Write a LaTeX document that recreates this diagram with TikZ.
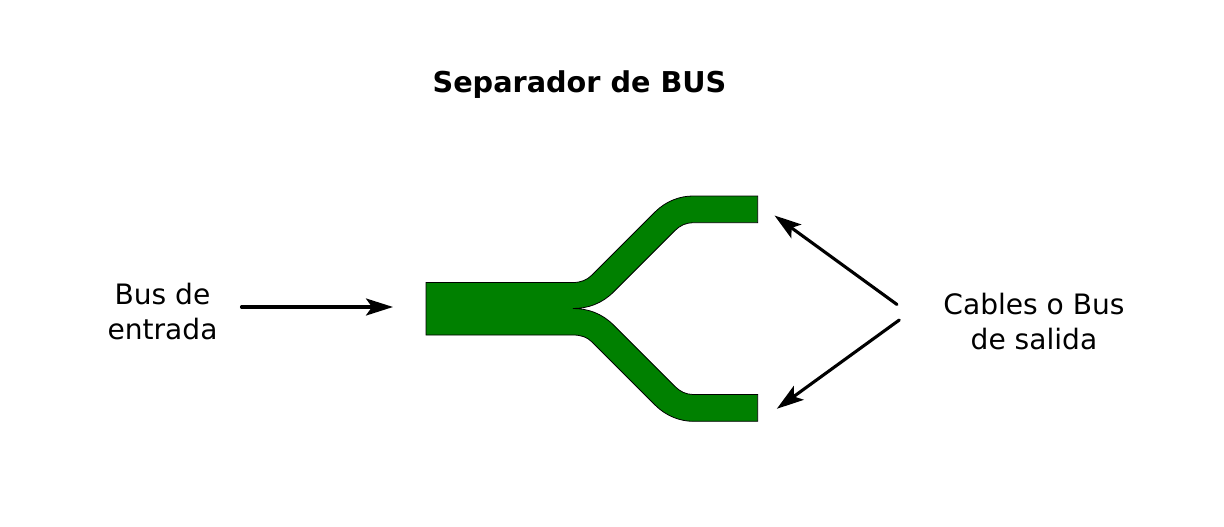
\documentclass[tikz,border=0pt]{standalone}
\usepackage{fontspec}
\setmainfont{DejaVu Sans}
\usetikzlibrary{arrows.meta}
\definecolor{busgreen}{RGB}{0,128,0}
\tikzset{
  busshape/.style={fill=busgreen,draw=black,line width=0.8pt,line join=miter,miter limit=2},
  pointer/.style={draw=black,line width=3.1pt,line cap=round,-{Stealth[length=27pt,width=17pt,inset=6pt]}},
  lbl/.style={align=center,inner sep=0pt,font=\fontsize{28.1}{34.5}\selectfont},
  ttl/.style={inner sep=0pt,font=\fontsize{28.7}{34}\selectfont\bfseries}
}
\begin{document}
\begin{tikzpicture}[x=1pt,y=-1pt]
\useasboundingbox (0,0) rectangle (1224,527);
\path[busshape]
  (426,282.5) -- (573,282.5)
  .. controls (581,282.5) and (587,280) .. (592,275)
  -- (655,212)
  .. controls (666,201) and (680,196) .. (693,196)
  -- (757.7,196) -- (757.7,222.7) -- (693,222.7)
  .. controls (686,222.7) and (680,225.5) .. (675,230.5)
  -- (613.5,292)
  .. controls (602,303.5) and (588,308.5) .. (573,308.5)
  .. controls (588,308.5) and (602,313.5) .. (613.5,325)
  -- (675,386.5)
  .. controls (680,391.5) and (686,394.5) .. (693,394.5)
  -- (757.7,394.5) -- (757.7,421.3) -- (693,421.3)
  .. controls (680,421.3) and (666,416) .. (655,405)
  -- (592,342)
  .. controls (587,337) and (581,335) .. (573,335)
  -- (426,335) -- cycle;
\node[ttl] (title) at (579.5,84.5) {Separador de BUS};
\node[lbl] (input) at (162.5,311.5) {Bus de\\entrada};
\node[lbl] (output) at (1034,321.5) {Cables o Bus\\de salida};
\coordinate (inStart) at (241.5,307);
\coordinate (inEnd) at (393,307);
\coordinate (upStart) at (897,304.5);
\coordinate (upEnd) at (774.5,215.5);
\coordinate (downStart) at (899.3,320);
\coordinate (downEnd) at (776.8,408.8);
\draw[pointer] (inStart) -- (inEnd);
\draw[pointer] (upStart) -- (upEnd);
\draw[pointer] (downStart) -- (downEnd);
\end{tikzpicture}
\end{document}
